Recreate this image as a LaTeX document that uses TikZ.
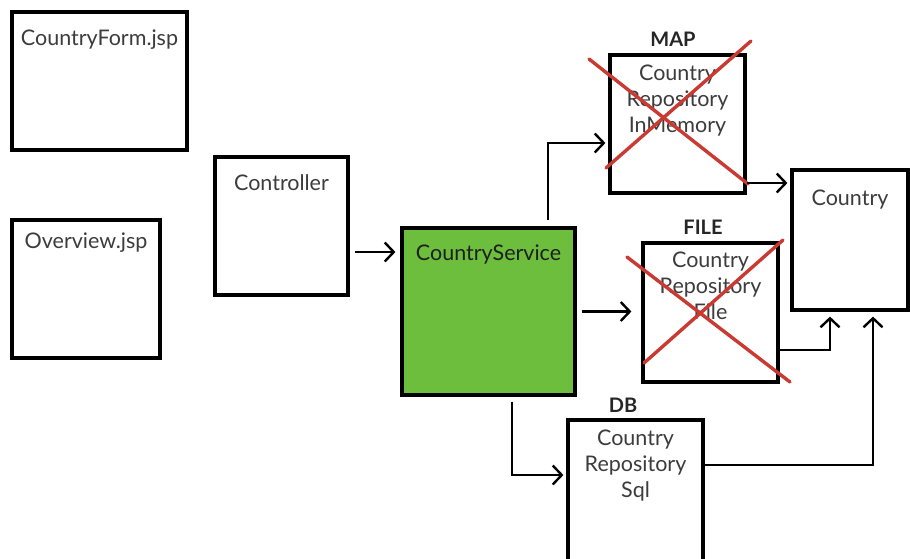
\documentclass[tikz,border=0pt]{standalone}
\usepackage{fontspec}
\setmainfont{Lato}
\usetikzlibrary{arrows.meta}
\definecolor{servicegreen}{HTML}{6CBE3C}
\definecolor{crossred}{HTML}{C93A33}
\definecolor{ink}{HTML}{3C3C3C}
\begin{document}
\begin{tikzpicture}[x=1pt,y=-1pt,
  box/.style={draw=black, line width=3.2pt, fill=white, inner sep=0pt},
  caption/.style={text=ink, font=\fontsize{21.5}{26}\selectfont, align=center, inner sep=0pt, anchor=north},
  tag/.style={text=black!85, font=\fontsize{20}{22}\selectfont\bfseries, inner sep=0pt},
  flow/.style={line width=2.5pt, -{Straight Barb[length=9pt,width=19pt,line width=2.4pt]}},
  cross/.style={draw=crossred, line width=3.4pt, line cap=round}]

% page frame
\useasboundingbox (0,0) rectangle (910,558);

% boxes
\node[box, minimum width=175pt, minimum height=138pt] (form) at (99.5,81) {};
\node[box, minimum width=148pt, minimum height=138pt] (overview) at (86,289) {};
\node[box, minimum width=133pt, minimum height=138pt] (controller) at (281.5,226) {};
\node[box, fill=servicegreen, minimum width=173pt, minimum height=167pt] (service) at (488.5,311.5) {};
\node[box, minimum width=135pt, minimum height=138pt] (map) at (677.5,124) {};
\node[box, minimum width=135pt, minimum height=139pt] (file) at (710.5,312.5) {};
\node[box, minimum width=135pt, minimum height=160pt] (db) at (635.5,500) {};
\node[box, minimum width=116pt, minimum height=140pt] (country) at (850,240) {};

% box captions
\node[caption] (form-t) at ([yshift=-19pt]form.north) {CountryForm.jsp};
\node[caption] (overview-t) at ([yshift=-14pt]overview.north) {Overview.jsp};
\node[caption] (controller-t) at ([yshift=-19pt]controller.north) {Controller};
\node[caption, text=black!88] (service-t) at ([yshift=-18pt]service.north) {CountryService};
\node[caption] (map-t) at ([yshift=-11pt]map.north) {Country\\Repository\\InMemory};
\node[caption] (file-t) at ([yshift=-10pt]file.north) {Country\\Repository\\File};
\node[caption] (db-t) at ([yshift=-11pt]db.north) {Country\\Repository\\Sql};
\node[caption] (country-t) at ([yshift=-21pt]country.north) {Country};

% storage tags
\node[tag] (map-tag) at (673,39) {MAP};
\node[tag] (file-tag) at (703,227) {FILE};
\node[tag] (db-tag) at (623,405) {DB};

% struck-out repositories
\draw[cross] (589,59) -- (748,184);
\draw[cross] (751,41) -- (606,168);
\draw[cross] (627,257) -- (790,382);
\draw[cross] (783,240) -- (644,363);

% connector end points
\coordinate (ctl-out) at ([xshift=5pt,yshift=-26pt]controller.east);
\coordinate (svc-top) at ([xshift=59.5pt]service.north);
\coordinate (svc-bot) at ([xshift=23.5pt]service.south);
\coordinate (map-in) at ([yshift=-19pt]map.west);
\coordinate (map-out) at ([yshift=-59pt]map.east);
\coordinate (file-out) at ([yshift=-37.5pt]file.east);
\coordinate (db-in) at ([yshift=25pt]db.west);
\coordinate (db-out) at ([yshift=35pt]db.east);
\coordinate (cty-in1) at ([xshift=-20pt]country.south);
\coordinate (cty-in2) at ([xshift=23pt]country.south);

% connectors
\draw[flow, shorten >=5pt] (ctl-out) -- (ctl-out -| service.west);
\draw[flow, shorten <=6pt, shorten >=3pt] (svc-top) |- (map-in);
\draw[flow, shorten >=3pt] (map-out) -- (map-out -| country.west);
\draw[flow, shorten <=5pt, shorten >=10pt] (service.east) -- (service.east -| file.west);
\draw[flow, shorten <=5pt, shorten >=3pt] (svc-bot) |- (db-in);
\draw[flow, shorten >=5pt] (file-out) -| (cty-in1);
\draw[flow, shorten >=5pt] (db-out) -| (cty-in2);
\end{tikzpicture}
\end{document}
